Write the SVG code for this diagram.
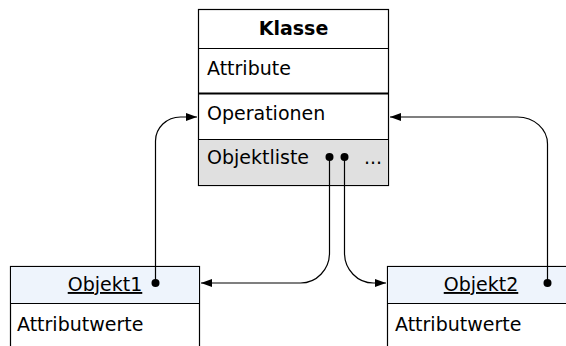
<svg xmlns="http://www.w3.org/2000/svg" width="566" height="346" viewBox="0 0 566 346">
<style>
text{font-family:"DejaVu Sans",sans-serif;font-size:19px;fill:#000}
.b{font-weight:bold}
.box{fill:#fff;stroke:#000;stroke-width:1.2}
.line{fill:none;stroke:#000;stroke-width:1.2}
.con{fill:none;stroke:#000;stroke-width:1.2}
</style>
<defs>
<marker id="ah" viewBox="0 0 11 8" refX="11" refY="4" markerWidth="11" markerHeight="8" markerUnits="userSpaceOnUse" orient="auto">
<path d="M0,0 L11,4 L0,8 Z" fill="#000"/>
</marker>
</defs>
<g id="klasse">
<rect class="box" x="198.5" y="9.5" width="190" height="176"/>
<rect x="199" y="139.5" width="189" height="45.5" fill="#e0e0e0"/>
<line class="line" x1="198.5" y1="48.5" x2="388.5" y2="48.5"/>
<line x1="198.5" y1="93.5" x2="388.5" y2="93.5" stroke="#000" stroke-width="2"/>
<line class="line" x1="198.5" y1="139.5" x2="388.5" y2="139.5"/>
<text class="b" x="293.5" y="35" text-anchor="middle">Klasse</text>
<text x="207" y="75">Attribute</text>
<text x="207" y="120">Operationen</text>
<text x="207" y="164">Objektliste</text>
<text x="364" y="164">...</text>
</g>
<g id="objekt1">
<rect class="box" x="10.5" y="266.5" width="189" height="90"/>
<rect x="11" y="267" width="188" height="36" fill="#eef4fc"/>
<line class="line" x1="10.5" y1="303.5" x2="199.5" y2="303.5"/>
<text x="105" y="291" text-anchor="middle" text-decoration="underline">Objekt1</text>
<text x="17" y="331">Attributwerte</text>
</g>
<g id="objekt2">
<rect class="box" x="387.5" y="266.5" width="190" height="90"/>
<rect x="388" y="267" width="189" height="36" fill="#eef4fc"/>
<line class="line" x1="387.5" y1="303.5" x2="577" y2="303.5"/>
<text x="481" y="291" text-anchor="middle" text-decoration="underline">Objekt2</text>
<text x="395" y="331">Attributwerte</text>
</g>
<g id="connectors">
<path class="con" d="M155.5,283 V141 A25,24 0 0 1 180.5,117 H197" marker-end="url(#ah)"/>
<circle cx="155.5" cy="283" r="4"/>
<path class="con" d="M547.5,283 V144 A30,27 0 0 0 517.5,117 H390" marker-end="url(#ah)"/>
<circle cx="547.5" cy="283" r="4"/>
<path class="con" d="M329.5,157 V253 A29,30 0 0 1 300.5,283 H201" marker-end="url(#ah)"/>
<circle cx="329.5" cy="157" r="4"/>
<path class="con" d="M344.5,157 V253 A29,30 0 0 0 373.5,283 H386" marker-end="url(#ah)"/>
<circle cx="344.5" cy="157" r="4"/>
</g>
</svg>
